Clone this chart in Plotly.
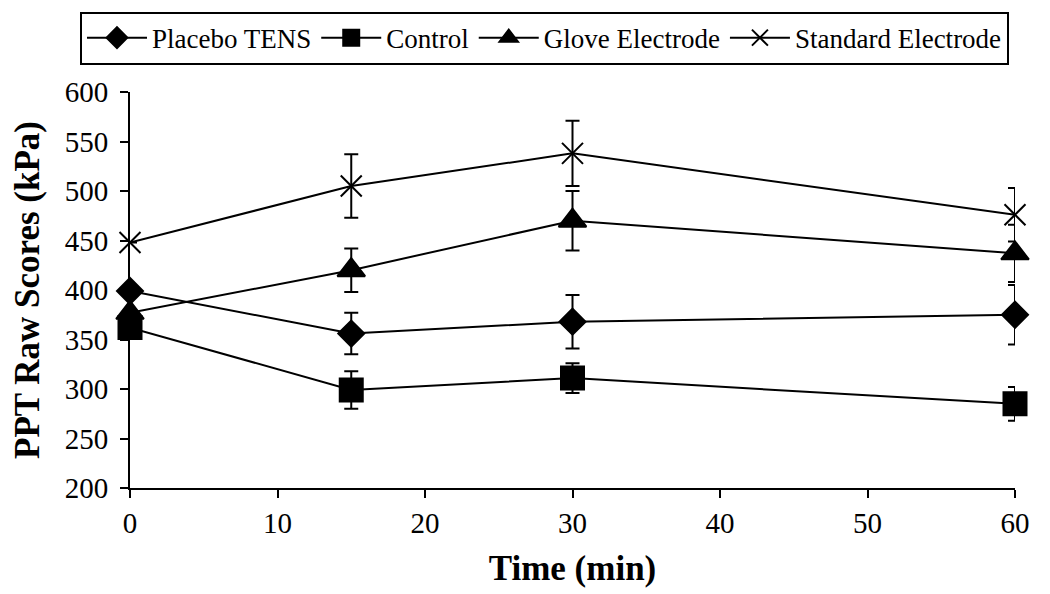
import plotly.graph_objects as go

time_min = [0, 15, 30, 60]

placebo = [399, 356, 368, 375]
placebo_err = [0, 21, 27, 30]

control = [362, 299, 311, 285]
control_err = [0, 19, 15, 17]

glove = [377, 420, 470, 437]
glove_err = [0, 22, 30, 29]

standard = [448, 505, 538, 476]
standard_err = [0, 32, 33, 27]

series = [
    ("Placebo TENS", placebo, placebo_err, "diamond", 20),
    ("Control", control, control_err, "square", 23),
    ("Glove Electrode", glove, glove_err, "triangle-up", 24),
    ("Standard Electrode", standard, standard_err, "x-thin-open", 21),
]

FONT = "Liberation Serif, Times New Roman, serif"

fig = go.Figure()
for name, vals, errs, sym, size in series:
    fig.add_trace(go.Scatter(
        x=time_min, y=vals, name=name, mode="lines+markers",
        line=dict(color="black", width=2),
        marker=dict(symbol=sym, size=size, color="black",
                    line=dict(color="black", width=2)),
        error_y=dict(type="data", array=errs, visible=True,
                     color="black", thickness=2, width=7),
        cliponaxis=False,
    ))

fig.update_layout(
    width=1050, height=594,
    margin=dict(l=130, r=35, t=89, b=106),
    paper_bgcolor="white", plot_bgcolor="white",
    font=dict(family=FONT, color="black"),
    showlegend=True,
    legend=dict(
        orientation="h", x=-0.0565, xanchor="left", y=1.203, yanchor="top",
        font=dict(family=FONT, size=27, color="black"),
        bordercolor="black", borderwidth=2, bgcolor="white",
        itemwidth=60,
    ),
    xaxis=dict(
        range=[0, 60], tickmode="linear", tick0=0, dtick=10,
        showline=True, linecolor="black", linewidth=2,
        ticks="outside", ticklen=8, tickwidth=2, tickcolor="black",
        showgrid=False, zeroline=False,
        tickfont=dict(family=FONT, size=29, color="black"),
        title=dict(text="Time (min)", standoff=18,
                   font=dict(family=FONT, size=35, color="black", weight="bold")),
    ),
    yaxis=dict(
        range=[200, 600], tickmode="linear", tick0=200, dtick=50,
        showline=True, linecolor="black", linewidth=2,
        ticks="outside", ticklen=8, tickwidth=2, tickcolor="black",
        showgrid=False, zeroline=False, ticklabelstandoff=6,
        tickfont=dict(family=FONT, size=29, color="black"),
        title=dict(text="PPT Raw Scores (kPa)", standoff=14,
                   font=dict(family=FONT, size=35, color="black", weight="bold")),
    ),
)

fig.write_html("out.html", config={"displayModeBar": False},
               post_script="document.body.style.margin='0';")
